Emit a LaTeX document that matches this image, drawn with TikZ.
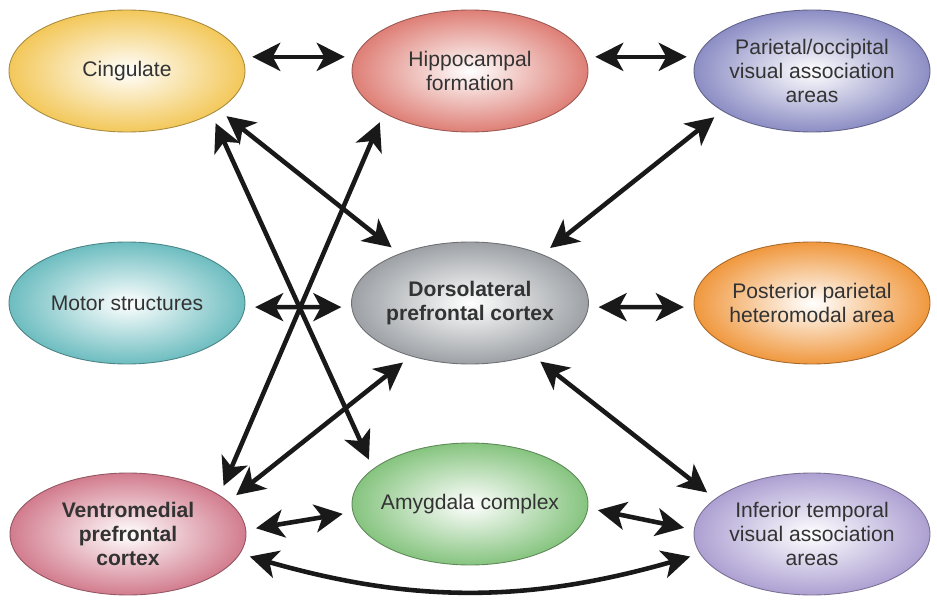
\documentclass[tikz,border=0pt]{standalone}
\usepackage{fontspec}
\setmainfont{Liberation Sans}
\usetikzlibrary{shapes.geometric,arrows.meta}

\definecolor{cingcol}{RGB}{243,200,90}
\definecolor{hippcol}{RGB}{222,127,118}
\definecolor{parcol}{RGB}{140,141,196}
\definecolor{motorcol}{RGB}{109,189,192}
\definecolor{dlpfcol}{RGB}{157,161,165}
\definecolor{postcol}{RGB}{240,152,62}
\definecolor{vmpfcol}{RGB}{210,124,142}
\definecolor{amygcol}{RGB}{134,196,127}
\definecolor{infcol}{RGB}{173,160,210}

\tikzset{
  region/.style={ellipse, draw=#1!70!black, line width=0.5pt,
    inner color=white, outer color=#1,
    minimum width=4.72cm, minimum height=2.44cm, inner sep=0pt,
    align=center, text=black!80, font=\fontsize{12}{13.5}\selectfont},
  tip/.tip={Stealth[length=0.56cm,width=0.56cm,inset=0.15cm]},
  link/.style={tip-tip, line width=2.6pt, draw=black!90,
    shorten <=0.2cm, shorten >=0.2cm}
}

\begin{document}
\begin{tikzpicture}[x=0.02cm, y=-0.02cm]
\useasboundingbox (0,0) rectangle (937,608);

% The regions
\node[region=cingcol] (cing) at (127,71) {Cingulate};
\node[region=hippcol] (hipp) at (470,71) {Hippocampal\\formation};
\node[region=parcol] (par) at (812,71) {Parietal/occipital\\visual association\\areas};
\node[region=motorcol] (motor) at (127,303) {Motor structures};
\node[region=dlpfcol] (dlpf) at (470,303) {\textbf{Dorsolateral}\\\textbf{prefrontal cortex}};
\node[region=postcol] (post) at (812,303) {Posterior parietal\\heteromodal area};
\node[region=vmpfcol] (vmpf) at (128,534) {\textbf{Ventromedial}\\\textbf{prefrontal}\\\textbf{cortex}};
\node[region=amygcol, inner xsep=-0.3cm] (amyg) at (470,504) {Amygdala complex};
\node[region=infcol] (inf) at (812,534) {Inferior temporal\\visual association\\areas};

% The connections
\draw[link] (cing.7) -- (hipp.173);
\draw[link] (hipp.7) -- (par.173);
\draw[link] (motor.358) -- (dlpf.182);
\draw[link] (dlpf.358) -- (post.182);
\draw[link] (cing.337) -- (dlpf.145);
\draw[link] (cing.333) -- (amyg.160);
\draw[link] (par.204) -- (dlpf.34);
\draw[link] (vmpf.23) -- (hipp.206);
\draw[link] (vmpf.18) -- (dlpf.222);
\draw[link] (vmpf.2) -- (amyg.184);
\draw[link] (amyg.358) -- (inf.178);
\draw[link] (dlpf.320) -- (inf.160);
\draw[link] (vmpf.350) to[bend right=16] (inf.190);
\end{tikzpicture}
\end{document}
